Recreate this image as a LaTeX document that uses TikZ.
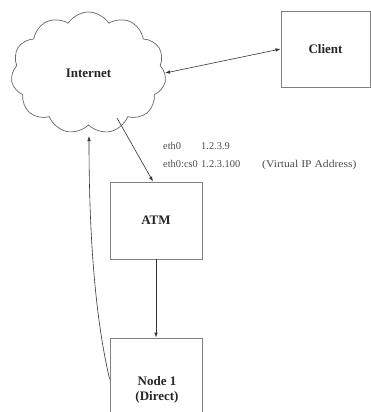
\documentclass[tikz,border=0pt]{standalone}
\usepackage{fontspec}
\setmainfont{Liberation Serif}
\usetikzlibrary{shapes.symbols,arrows.meta}
\begin{document}
\begin{tikzpicture}[x=1pt,y=-1pt,
  box/.style={draw=black!50,line width=0.9pt,minimum width=92pt,minimum height=77pt,inner sep=0pt},
  lbl/.style={font=\fontsize{13}{15}\selectfont\bfseries,text=black!85,align=center},
  small/.style={font=\fontsize{10.4}{12}\selectfont,text=black!70,anchor=base west,inner sep=0pt},
  conn/.style={draw=black!80,line width=0.6pt},
  tip/.style={-{Latex[length=5pt,width=3.5pt]}},
  tips/.style={{Latex[length=5pt,width=3.5pt]}-{Latex[length=5pt,width=3.5pt]}}
]
\clip (0,0) rectangle (371,412);
\fill[white] (0,0) rectangle (371,412);

\node[cloud,draw=black!60,line width=0.7pt,cloud puffs=11,cloud puff arc=115,
      aspect=1.27,minimum width=155pt,minimum height=122pt,inner sep=0pt,lbl] (inet) at (88.5,73) {Internet};
\node[box,minimum width=89pt,minimum height=76pt,lbl] (client) at (325.5,49) {Client};
\node[box,lbl] (atm) at (156,220.5) {ATM};
\node[box,minimum height=82pt] (node1) at (156,379) {};
\node[lbl] (node1txt) at (157,389.5) {Node 1\\(Direct)};

\node[small] (eth0) at (163,149) {eth0};
\node[small] (ip1) at (201,149) {1.2.3.9};
\node[small] (eth0cs) at (163,167) {eth0:cs0};
\node[small] (ip2) at (201,167) {1.2.3.100};
\node[small] (vip) at (262,167) {\scalebox{1.12}[1]{(Virtual IP Address)}};

\coordinate (c1) at (117,118);
\coordinate (c2) at (89,136);
\draw[conn,tips] (inet.east) -- (client.west);
\draw[conn,tip] (c1) -- ([xshift=-3pt]atm.north);
\draw[conn,tip] (atm.south) -- (node1.north);
\draw[conn,tip] (node1.west) .. controls (97,325) and (89,250) .. (c2);
\end{tikzpicture}
\end{document}
